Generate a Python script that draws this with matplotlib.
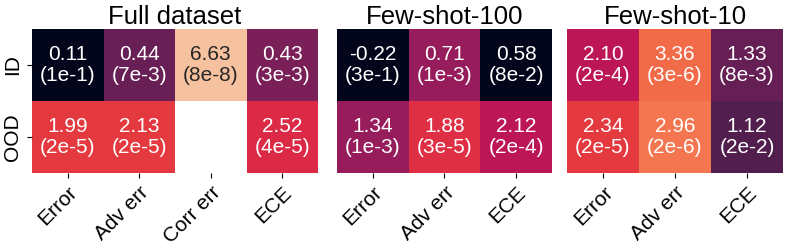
import numpy as np
import matplotlib
matplotlib.use("Agg")
from matplotlib import pyplot as plt
import seaborn as sns

plt.rcParams['font.family'] = ['Liberation Sans', 'DejaVu Sans']

rows = ["ID", "OOD"]

full_cols = ["Error", "Adv err", "Corr err", "ECE"]
full_effect = [[0.11, 0.44, 6.63, 0.43],
               [1.99, 2.13, np.nan, 2.52]]
full_p = [[1e-1, 7e-3, 8e-8, 3e-3],
          [2e-5, 2e-5, np.nan, 4e-5]]

fs100_cols = ["Error", "Adv err", "ECE"]
fs100_effect = [[-0.22, 0.71, 0.58],
                [1.34, 1.88, 2.12]]
fs100_p = [[3e-1, 1e-3, 8e-2],
           [1e-3, 3e-5, 2e-4]]

fs10_cols = ["Error", "Adv err", "ECE"]
fs10_effect = [[2.10, 3.36, 1.33],
               [2.34, 2.96, 1.12]]
fs10_p = [[2e-4, 3e-6, 8e-3],
          [2e-5, 2e-6, 2e-2]]

titles = ["Full dataset", "Few-shot-100", "Few-shot-10"]


def fmt_p(p):
    m, e = f"{p:.0e}".split("e")
    return f"{m}e-{int(e[1:])}"


def make_labels(effect, p):
    labels = []
    for erow, prow in zip(effect, p):
        row = []
        for v, pv in zip(erow, prow):
            row.append("" if np.isnan(v) else f"{v:.2f}\n({fmt_p(pv)})")
        labels.append(row)
    return np.array(labels)


def color_values(p):
    p = np.array(p, dtype=float)
    c = -np.log10(p)
    # not significant -> bottom of the scale
    c[p >= 0.05] = 0
    return c


fig = plt.figure(figsize=(7.89, 2.52), dpi=100)
bottom, height = 0.313, 0.572
axes = [fig.add_axes([0.0406, bottom, 0.3625, height]),
        fig.add_axes([0.4271, bottom, 0.2725, height]),
        fig.add_axes([0.7186, bottom, 0.2738, height])]

panels = [(full_cols, full_effect, full_p),
          (fs100_cols, fs100_effect, fs100_p),
          (fs10_cols, fs10_effect, fs10_p)]

for i, (ax, (cols, eff, p)) in enumerate(zip(axes, panels)):
    sns.heatmap(color_values(p), ax=ax, cmap="rocket", vmin=0, vmax=8,
                annot=make_labels(eff, p), fmt="", cbar=False,
                annot_kws={"fontsize": 15, "linespacing": 1.15},
                xticklabels=cols, yticklabels=rows if i == 0 else False)
    ax.set_title(titles[i], fontsize=18.5, pad=3)
    ax.set_xticklabels(cols, rotation=45, ha="right", rotation_mode="anchor",
                       fontsize=15)
    if i == 0:
        ax.set_yticklabels(rows, rotation=90, va="center", fontsize=15)
    else:
        ax.tick_params(axis="y", left=False)

fig.savefig("out.png", dpi=100)
